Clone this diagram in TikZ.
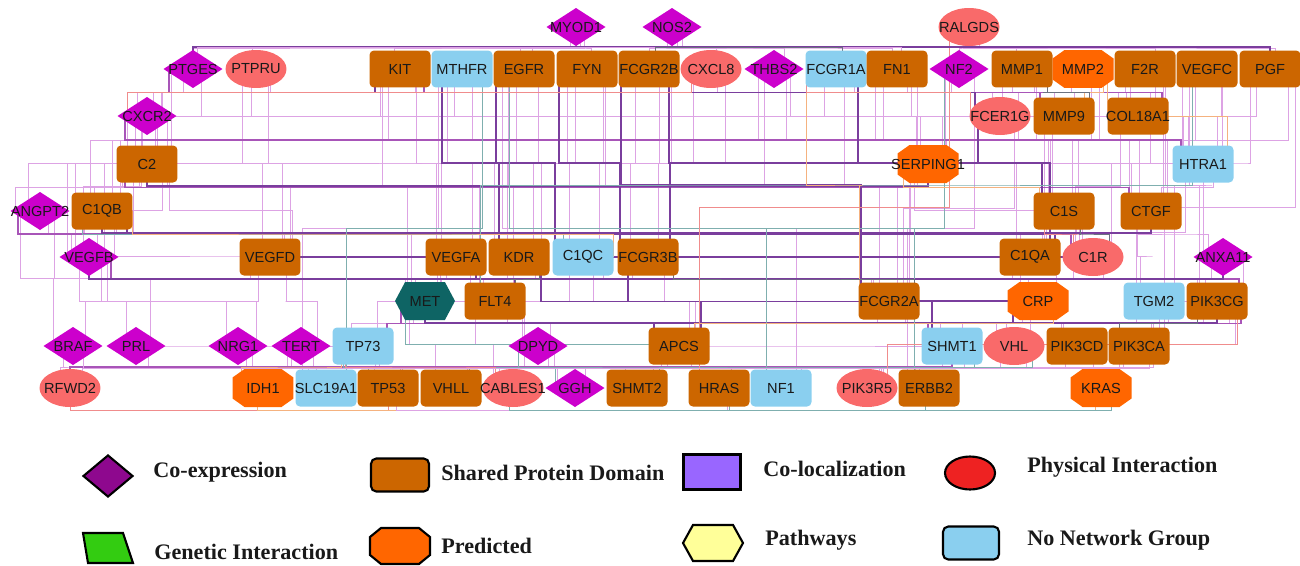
\documentclass[tikz,border=0pt]{standalone}
\usepackage{fontspec}
\newfontfamily\labfont{Liberation Sans}
\newfontfamily\legfont{Liberation Serif}
\usetikzlibrary{shapes.geometric,shapes.misc,shapes.symbols,calc,backgrounds}
\definecolor{cbrown}{HTML}{CC6600}
\definecolor{cblue}{HTML}{8ACFEF}
\definecolor{cmag}{HTML}{CC00CC}
\definecolor{csalm}{HTML}{F96A6A}
\definecolor{corange}{HTML}{FF6600}
\definecolor{cteal}{HTML}{0E6464}
\definecolor{lpurple}{HTML}{8E088E}
\definecolor{lviolet}{HTML}{9966FF}
\definecolor{lred}{HTML}{EE2222}
\definecolor{lgreen}{HTML}{33CC11}
\definecolor{lyellow}{HTML}{FFFF99}
\definecolor{ece}{HTML}{DDA3E4}
\definecolor{ecm}{HTML}{A855B8}
\definecolor{ecl}{HTML}{7A3E9D}
\definecolor{ege}{HTML}{7FAFAF}
\definecolor{epr}{HTML}{F5B27F}
\definecolor{eph}{HTML}{F08C8C}
\definecolor{esh}{HTML}{6B7280}
\newcommand\gn[4]{\node[#1,label={[lbl]center:#2}] (#2) at (#3,#4) {};}
\tikzset{
  lbl/.style={font=\labfont\fontsize{8.3}{9}\selectfont, inner sep=0pt, text=black!90},
  nd/.style={inner sep=0pt, outer sep=0pt, draw=none},
  box/.style={nd, rectangle, rounded corners=2.5pt, fill=cbrown, minimum width=1.22cm, minimum height=0.74cm},
  nbox/.style={box, fill=cblue},
  dia/.style={nd, diamond, fill=cmag, minimum width=1.18cm, minimum height=0.76cm},
  ell/.style={nd, ellipse, fill=csalm, minimum width=1.22cm, minimum height=0.76cm},
  oct/.style={nd, rectangle, minimum width=1.22cm, minimum height=0.76cm,
    path picture={\fill[corange]
      ([xshift=0.24cm]path picture bounding box.north west) --
      ([xshift=-0.24cm]path picture bounding box.north east) --
      ([yshift=-0.17cm]path picture bounding box.north east) --
      ([yshift=0.17cm]path picture bounding box.south east) --
      ([xshift=-0.24cm]path picture bounding box.south east) --
      ([xshift=0.24cm]path picture bounding box.south west) --
      ([yshift=0.17cm]path picture bounding box.south west) --
      ([yshift=-0.17cm]path picture bounding box.north west) -- cycle;}},
  hexa/.style={nd, signal, signal to=west and east, signal pointer angle=124, fill=cteal, minimum width=1.2cm, minimum height=0.76cm},
  taxi/.style={to path={($(\tikztostart)+(#1,0)$) |- ($(\tikztostart)!0.5!(\tikztotarget)$) -| ($(\tikztotarget)+(#1,0)$)}},
  taxi/.default=0,
  under/.style={to path={($(\tikztostart)+(#1,0)$) -- ++(0,22) -| ($(\tikztotarget)+(#1,0)$)}},
  over/.style={to path={($(\tikztostart)+(#1,0)$) -- ++(0,-22) -| ($(\tikztotarget)+(#1,0)$)}},
  ce/.style={draw=ece, line width=0.45pt},
  cmid/.style={draw=ecm, line width=0.6pt},
  cl/.style={draw=ecl, line width=0.7pt},
  ge/.style={draw=ege, line width=0.45pt},
  pr/.style={draw=epr, line width=0.45pt},
  ph/.style={draw=eph, line width=0.45pt},
  sh/.style={draw=esh, line width=0.5pt},
  legtxt/.style={font=\legfont\bfseries\fontsize{12.6}{14}\selectfont, anchor=west, inner sep=0pt, text=black!90},
  legshape/.style={draw=black, line width=1.2pt, inner sep=0pt},
}
\begin{document}
\begin{tikzpicture}[x=0.02cm, y=-0.02cm]
\useasboundingbox (0,0) rectangle (1300,565);
% row 1
\gn{dia}{MYOD1}{576}{27}
\gn{dia}{NOS2}{672}{27}
\gn{ell}{RALGDS}{969}{27}
% row 2
\gn{dia}{PTGES}{193}{69}
\gn{ell}{PTPRU}{256}{69}
\gn{box}{KIT}{400}{69}
\gn{nbox}{MTHFR}{462}{69}
\gn{box}{EGFR}{524}{69}
\gn{box}{FYN}{587}{69}
\gn{box}{FCGR2B}{649}{69}
\gn{ell}{CXCL8}{711}{69}
\gn{dia}{THBS2}{774}{69}
\gn{nbox}{FCGR1A}{836}{69}
\gn{box}{FN1}{897}{69}
\gn{dia}{NF2}{959}{69}
\gn{box}{MMP1}{1022}{69}
\gn{oct}{MMP2}{1083}{69}
\gn{box}{F2R}{1145}{69}
\gn{box}{VEGFC}{1207}{69}
\gn{box}{PGF}{1270}{69}
% row 3
\gn{dia}{CXCR2}{147}{116}
\gn{ell}{FCER1G}{1000}{116}
\gn{box}{MMP9}{1064}{116}
\gn{box}{COL18A1}{1138}{116}
% row 4
\gn{box}{C2}{147}{164}
\gn{oct}{SERPING1}{928}{164}
\gn{nbox}{HTRA1}{1203}{164}
% row 5
\gn{dia}{ANGPT2}{40}{211}
\gn{box}{C1QB}{102}{211}
\gn{box}{C1S}{1064}{211}
\gn{box}{CTGF}{1151}{211}
% row 6
\gn{dia}{VEGFB}{89}{257}
\gn{box}{VEGFD}{270}{257}
\gn{box}{VEGFA}{456}{257}
\gn{box}{KDR}{519}{257}
\gn{nbox}{C1QC}{583}{257}
\gn{box}{FCGR3B}{648}{257}
\gn{box}{C1QA}{1030}{257}
\gn{ell}{C1R}{1093}{257}
\gn{dia}{ANXA11}{1223}{257}
% row 7
\gn{hexa}{MET}{425}{301}
\gn{box}{FLT4}{495}{301}
\gn{box}{FCGR2A}{889}{301}
\gn{oct}{CRP}{1038}{301}
\gn{nbox}{TGM2}{1154}{301}
\gn{box}{PIK3CG}{1217}{301}
% row 8
\gn{dia}{BRAF}{73}{346}
\gn{dia}{PRL}{136}{346}
\gn{dia}{NRG1}{238}{346}
\gn{dia}{TERT}{301}{346}
\gn{nbox}{TP73}{363}{346}
\gn{dia}{DPYD}{538}{346}
\gn{box}{APCS}{679}{346}
\gn{nbox}{SHMT1}{952}{346}
\gn{ell}{VHL}{1014}{346}
\gn{box}{PIK3CD}{1077}{346}
\gn{box}{PIK3CA}{1139}{346}
% row 9
\gn{ell}{RFWD2}{70}{388}
\gn{oct}{IDH1}{263}{388}
\gn{nbox}{SLC19A1}{326}{388}
\gn{box}{TP53}{388}{388}
\gn{box}{VHLL}{451}{388}
\gn{ell}{CABLES1}{513}{388}
\gn{dia}{GGH}{575}{388}
\gn{box}{SHMT2}{637}{388}
\gn{box}{HRAS}{719}{388}
\gn{nbox}{NF1}{781}{388}
\gn{ell}{PIK3R5}{867}{388}
\gn{box}{ERBB2}{929}{388}
\gn{oct}{KRAS}{1101}{388}

% connectors
\begin{scope}[on background layer]
\foreach \a/\b/\o in {MYOD1/PTGES/0, MYOD1/FYN/4, MYOD1/KIT/-6, MYOD1/EGFR/8, NOS2/FCGR2B/0, NOS2/CXCL8/5, NOS2/FN1/-5, NOS2/THBS2/10,
  RALGDS/NF2/0, RALGDS/PGF/5, RALGDS/MMP1/-6, RALGDS/F2R/10,
  PTGES/CXCR2/-10, PTGES/C2/8, PTPRU/C2/-5, PTPRU/VEGFD/12, KIT/C2/-20, KIT/CXCR2/15, KIT/C1QB/-12, MTHFR/C1QB/10, MTHFR/VEGFA/-15,
  EGFR/VEGFD/-8, EGFR/KDR/14, FYN/KDR/-12, FYN/FLT4/18, FCGR2B/C1QC/-14, FCGR2B/FCGR3B/10, CXCL8/FCGR3B/-18, CXCL8/CXCR2/6,
  THBS2/FCGR2A/-10, THBS2/CTGF/12, FCGR1A/SERPING1/-12, FCGR1A/FCER1G/18, FN1/C1S/-14, FN1/MMP9/10, NF2/FCER1G/-8, NF2/NF1/15,
  MMP1/MMP9/-10, MMP1/COL18A1/12, MMP2/COL18A1/-12, MMP2/C1S/8, F2R/HTRA1/-15, F2R/C2/10, VEGFC/CTGF/-12, VEGFC/VEGFB/15,
  PGF/ANXA11/-20, PGF/C1QB/18, PGF/PIK3CA/25, VEGFC/KDR/-25,
  CXCR2/ANGPT2/-12, CXCR2/C1QB/10, C2/ANGPT2/-25, C2/VEGFB/15, C1QB/VEGFB/-18, C1QB/VEGFD/14, ANGPT2/BRAF/-20, VEGFB/BRAF/12,
  VEGFB/PRL/-10, VEGFD/NRG1/-12, VEGFD/TERT/16, VEGFA/MET/-10, VEGFA/TP73/14, KDR/FLT4/-12, C1QC/APCS/10, C1QC/DPYD/-14,
  FCGR3B/FCGR2A/-16, C1QA/CRP/-10, C1R/TGM2/10, ANXA11/PIK3CG/-12, C1S/C1QA/12, CTGF/ANXA11/-15, HTRA1/CTGF/10, SERPING1/C1R/-14,
  FCER1G/FCGR2A/14, MMP9/C1S/-12, COL18A1/CTGF/12, COL18A1/C1R/-18,
  MET/TP73/-12, FLT4/DPYD/12, FCGR2A/SHMT1/-12, CRP/VHL/-8, TGM2/PIK3CA/14, PIK3CG/PIK3CD/-14, TGM2/SHMT1/10,
  BRAF/RFWD2/-10, PRL/RFWD2/12, NRG1/IDH1/8, TERT/SLC19A1/-10, TP73/TP53/12, DPYD/CABLES1/-14, DPYD/GGH/10, APCS/SHMT2/-12,
  APCS/HRAS/12, APCS/NF1/20, SHMT1/ERBB2/-10, VHL/KRAS/12, PIK3CD/KRAS/-12, PIK3CA/PIK3R5/14, PTGES/VEGFB/-22, CXCR2/VEGFD/20,
  KIT/MET/-18, FN1/FCGR2A/20, THBS2/SERPING1/16, EGFR/ERBB2/-22, PIK3CG/KRAS/18, ANXA11/PIK3CA/20, HTRA1/TGM2/-18, F2R/C1R/18,
  CXCR2/C2/8, CXCR2/VEGFB/-6, C2/C1QB/-8, C2/VEGFD/22, C2/MET/-14, C1QB/VEGFA/-20, C1QB/MET/12, ANGPT2/VEGFB/8, ANGPT2/PRL/14,
  VEGFB/NRG1/18, PRL/TP73/-16, NRG1/TP53/14, TERT/TP53/-14, TP73/VHLL/16, PTPRU/CXCR2/14, PTPRU/VEGFB/-14, KIT/VEGFA/16,
  MTHFR/SERPING1/-8, MTHFR/SLC19A1/-24, EGFR/FLT4/-16, FYN/C1QC/16, FYN/VEGFA/-20, FCGR2B/KDR/22, CXCL8/C1QA/14, THBS2/C1S/-16,
  FCGR1A/FCGR2A/8, FN1/SERPING1/14, FN1/CTGF/-22, NF2/C1QA/-14, MMP1/C1S/14, MMP1/HTRA1/-20, MMP2/CTGF/16, F2R/COL18A1/-20,
  F2R/TGM2/20, VEGFC/PIK3CG/-18, VEGFC/HTRA1/14, PGF/HTRA1/-14, MMP9/CTGF/-20, FCER1G/SERPING1/18, SERPING1/C1QA/16,
  SERPING1/CRP/-18, C1S/CRP/18, CTGF/TGM2/-14, C1R/PIK3CG/-20, C1QA/FCGR2A/-18, FCGR3B/APCS/16, C1QC/FLT4/20, KDR/MET/16,
  VEGFA/DPYD/-16, VEGFD/MET/-20, FCGR2A/VHL/16, CRP/PIK3CD/-16, PIK3CG/PIK3CA/12, TGM2/VHL/-18, APCS/SHMT1/-16, DPYD/SHMT2/16,
  FLT4/CABLES1/-20, MET/VHLL/-16, SHMT1/PIK3R5/12, VHL/ERBB2/-14, PIK3CD/PIK3R5/16, PIK3CA/KRAS/-16, TP73/SLC19A1/-18,
  TERT/IDH1/12, APCS/GGH/-18}
  \draw[ce] (\a) to[taxi=\o] (\b);
\foreach \a/\b/\o in {CXCR2/HTRA1/-22, C2/CTGF/-22, ANGPT2/C1R/-22, VEGFB/PIK3CG/22, TP73/PIK3CG/24, MET/SHMT1/-24,
  PTGES/MMP9/-24, KIT/COL18A1/24, RFWD2/SHMT1/0}
  \draw[cmid] (\a) to[taxi=\o] (\b);
\foreach \a/\b/\o in {MTHFR/KDR/-20, EGFR/C1QC/-28, FYN/FCGR3B/-28, FCGR2B/FCGR2A/-28, FCGR1A/FCGR3B/22, FCGR2B/C1QA/20,
  C1QB/C1QA/25, C1QC/C1R/-25, APCS/CRP/-25, FCGR2A/CRP/-25, VEGFA/FLT4/20, VEGFD/VEGFA/-25, KIT/FCER1G/-25,
  FCGR3B/SHMT1/-20, KDR/APCS/22, FCER1G/C1S/-22}
  \draw[cl] (\a) to[taxi=\o] (\b);
\foreach \a/\b/\o in {C2/SERPING1/0, C1QB/CTGF/0, VEGFB/ANXA11/0, MET/PIK3CG/0}
  \draw[cl] (\a) to[under=\o] (\b);
\foreach \a/\b/\o in {TP53/TP73/-20, NF1/NF2/-15, ERBB2/EGFR/-15, SLC19A1/MTHFR/20, GGH/DPYD/-20, MET/HRAS/-20,
  FLT4/VEGFC/-15, C1QB/C1QC/-20, VHL/VHLL/18, SHMT1/SHMT2/22}
  \draw[ge] (\a) to[taxi=\o] (\b);
\foreach \a/\b/\o in {SERPING1/C1S/-25, CRP/APCS/15, MMP2/MMP9/20, C1QB/C1QC/30, FCGR2A/FCGR1A/-30, MMP2/HTRA1/24, IDH1/TP73/-22}
  \draw[pr] (\a) to[taxi=\o] (\b);
\foreach \a/\b/\o in {CXCL8/CXCR2/-20, FCER1G/FCGR1A/-30, C1R/C1S/-20, CABLES1/TP73/-18, PIK3R5/PIK3CG/20, RALGDS/HRAS/-20}
  \draw[ph] (\a) to[taxi=\o] (\b);
\foreach \a/\b/\o in {FCGR2A/FCGR3B/25, KDR/FLT4/20, MMP1/MMP9/25, PIK3CG/PIK3CA/-20, C1S/C1R/16}
  \draw[sh] (\a) to[taxi=\o] (\b);
\draw[ph] (RFWD2) to[under=0] (TP53);
\draw[pr] (IDH1) to[under=-6] (KRAS);
\draw[ce] (TP53) to[under=8] (HRAS);
\draw[ge] (CABLES1) to[under=-4] (ERBB2);
\draw[ce] (BRAF) to[under=10] (PIK3CA);
\draw[ge] (KRAS) to[under=10] (HRAS);
\draw[cl] (PTGES) to[over=0] (PGF);
\draw[ce] (PTGES) to[over=4] (FN1);
\draw[ce] (PTPRU) to[over=-4] (EGFR);
\draw[sh] (FCGR1A) to[over=6] (FCGR2B);
\end{scope}

% legend
\node[legshape, diamond, fill=lpurple, minimum width=1.0cm, minimum height=0.84cm] (lce) at (108,476) {};
\node[legtxt] (tce) at (153,472) {Co-expression};
\node[legshape, rectangle, rounded corners=3pt, fill=cbrown, minimum width=1.16cm, minimum height=0.66cm] (lsh) at (400,475) {};
\node[legtxt] (tsh) at (441,473) {Shared Protein Domain};
\node[legshape, rectangle, fill=lviolet, minimum width=1.14cm, minimum height=0.70cm] (lcl) at (712,472) {};
\node[legtxt] (tcl) at (763,469) {Co-localization};
\node[legshape, ellipse, fill=lred, minimum width=1.0cm, minimum height=0.66cm] (lph) at (970,473) {};
\node[legtxt] (tph) at (1027,467) {Physical Interaction};
\draw[legshape, fill=lgreen, line join=miter] (83,533) -- (123,533) -- (133,563) -- (88,563) -- cycle;
\node[legtxt] (tge) at (154,552) {Genetic Interaction};
\draw[legshape, fill=corange] (381,528) -- (419,528) -- (430,537) -- (430,555) -- (419,564) -- (381,564) -- (370,555) -- (370,537) -- cycle;
\node[legtxt] (tpr) at (441,546) {Predicted};
\node[legshape, signal, signal to=west and east, signal pointer angle=122, fill=lyellow, minimum width=1.2cm, minimum height=0.72cm] (lpa) at (713,543) {};
\node[legtxt] (tpa) at (765,540) {Pathways};
\node[legshape, rectangle, rounded corners=3pt, fill=cblue, minimum width=1.12cm, minimum height=0.66cm] (lnn) at (971,543) {};
\node[legtxt] (tnn) at (1027,540) {No Network Group};
\end{tikzpicture}
\end{document}
